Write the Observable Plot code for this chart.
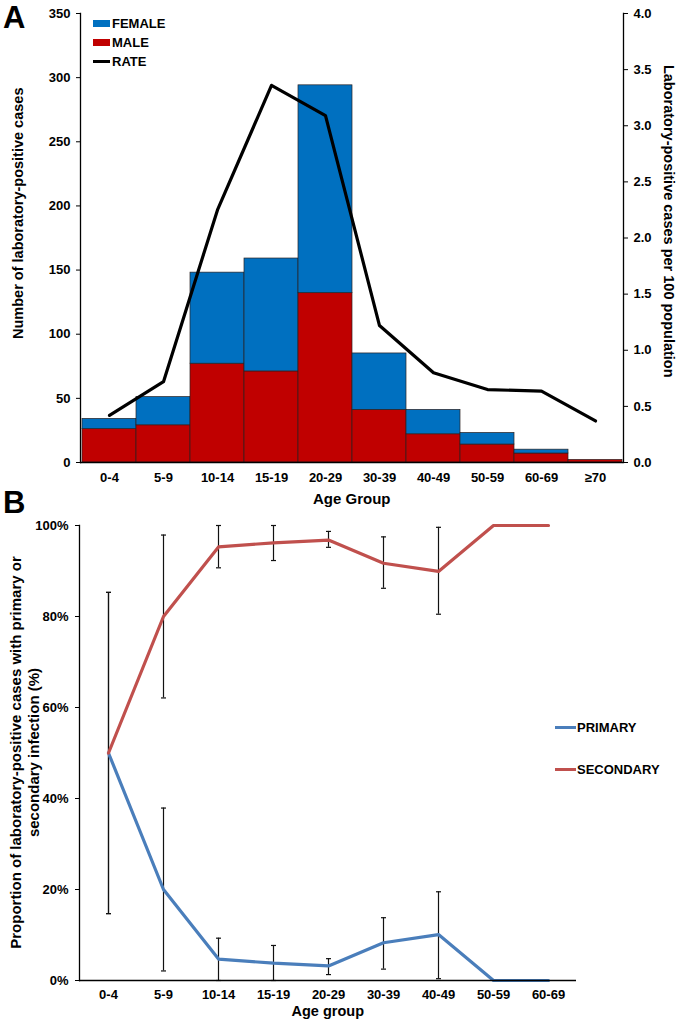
<!DOCTYPE html>
<html>
<head>
<meta charset="utf-8">
<script src="https://cdn.jsdelivr.net/npm/d3@7"></script>
<script src="https://cdn.jsdelivr.net/npm/@observablehq/plot@0.6"></script>
<style>
  html, body { margin: 0; padding: 0; background: #fff; }
  #wrap { position: relative; width: 678px; height: 1020px; font-family: "Liberation Sans", Arial, sans-serif; font-weight: bold; color: #000; overflow: hidden; }
  .abs { position: absolute; white-space: nowrap; }
  .panel { position: absolute; left: 0; }
  .lbl { font-size: 13px; line-height: 1; }
  .big { font-size: 31px; line-height: 1; }
  .sw { position: absolute; }
</style>
</head>
<body>
<div id="wrap"></div>
<script>
// ---------- Panel A data ----------
const ageGroups = ["0-4","5-9","10-14","15-19","20-29","30-39","40-49","50-59","60-69","≥70"];
const maleCases = [26, 29, 77, 71, 132, 41, 22, 14, 7, 2];
const femaleCases = [8, 22, 71, 88, 162, 44, 19, 9, 3, 0];
const ratePer100 = [0.42, 0.72, 2.25, 3.36, 3.09, 1.22, 0.80, 0.65, 0.635, 0.37];
const countTicks = [0, 50, 100, 150, 200, 250, 300, 350];
const rateTicks = [0, 0.5, 1, 1.5, 2, 2.5, 3, 3.5, 4];

// ---------- Panel B data ----------
const ageGroupsB = ["0-4","5-9","10-14","15-19","20-29","30-39","40-49","50-59","60-69"];
const primaryPct = [50, 20, 4.7, 3.8, 3.2, 8.3, 10.1, 0, 0];
const secondaryPct = [50, 80, 95.3, 96.2, 96.8, 91.7, 89.9, 100, 100];
const primaryLow = [14.7, 2.1, 0, 0, 1.3, 2.5, 0.4, null, null];
const primaryHigh = [85.3, 37.9, 9.3, 7.7, 4.8, 13.8, 19.5, null, null];
const secondaryLow = [14.7, 62.1, 90.7, 92.3, 95.2, 86.2, 80.5, null, null];
const secondaryHigh = [85.3, 97.9, 100, 100, 98.7, 97.5, 99.6, null, null];
const pctTicks = [0, 20, 40, 60, 80, 100];

const FEMALE = "#0070C0", MALE = "#C00000", RATE = "#000000";
const PRIMARY = "#4A7EBB", SECONDARY = "#C0504D";

const wrap = document.getElementById("wrap");
const fontFamily = '"Liberation Sans", Arial, sans-serif';

// ---------- Panel A ----------
const casesLong = [];
ageGroups.forEach((a, i) => {
  casesLong.push({age: a, sex: "MALE", n: maleCases[i]});
  casesLong.push({age: a, sex: "FEMALE", n: femaleCases[i]});
});
const rateData = ageGroups.map((a, i) => ({age: a, rate: ratePer100[i]}));
const k = 350 / 4; // right axis (0–4) shares the frame with left axis (0–350)

const plotA = Plot.plot({
  width: 678, height: 500,
  marginLeft: 80, marginRight: 55, marginTop: 13, marginBottom: 38,
  style: {fontFamily, fontSize: "13px", fontWeight: "bold", color: "#000", background: "transparent", overflow: "visible"},
  x: {domain: ageGroups, padding: 0, label: null},
  y: {domain: [0, 350], label: null},
  color: {domain: ["MALE", "FEMALE"], range: [MALE, FEMALE]},
  marks: [
    Plot.barY(casesLong, {x: "age", y: "n", fill: "sex", order: ["MALE", "FEMALE"], stroke: "#2a2020", strokeWidth: 0.7}),
    Plot.line(rateData, {x: "age", y: d => d.rate * k, stroke: RATE, strokeWidth: 3.2}),
    Plot.axisY({anchor: "left", ticks: countTicks, tickSize: 4, tickPadding: 6, label: null}),
    Plot.axisY({anchor: "right", ticks: rateTicks.map(r => r * k), tickFormat: v => (v / k).toFixed(1), tickSize: 4, tickPadding: 6, label: null}),
    Plot.axisX({tickSize: 0, tickPadding: 10, label: null}),
    Plot.frame({anchor: "left", stroke: "#000", strokeWidth: 1.3}),
    Plot.frame({anchor: "right", stroke: "#000", strokeWidth: 1.3}),
    Plot.ruleY([0], {stroke: "#000", strokeWidth: 1.3})
  ]
});
plotA.classList.add("panel");
plotA.style.top = "0px";
wrap.appendChild(plotA);

// ---------- Panel B ----------
const seriesB = [];
ageGroupsB.forEach((a, i) => {
  seriesB.push({age: a, s: "PRIMARY", v: primaryPct[i], lo: primaryLow[i], hi: primaryHigh[i]});
});
ageGroupsB.forEach((a, i) => {
  seriesB.push({age: a, s: "SECONDARY", v: secondaryPct[i], lo: secondaryLow[i], hi: secondaryHigh[i]});
});
const withCI = seriesB.filter(d => d.lo != null);
const capSymbol = { draw(ctx, size) { ctx.moveTo(-2.5, 0); ctx.lineTo(2.5, 0); } };

const plotB = Plot.plot({
  width: 678, height: 515,
  marginLeft: 79, marginRight: 102, marginTop: 20, marginBottom: 40,
  style: {fontFamily, fontSize: "13px", fontWeight: "bold", color: "#000", background: "transparent", overflow: "visible"},
  x: {type: "point", domain: ageGroupsB, padding: 0.5, label: null},
  y: {domain: [0, 100], label: null},
  color: {domain: ["PRIMARY", "SECONDARY"], range: [PRIMARY, SECONDARY]},
  marks: [
    Plot.ruleX(withCI, {x: "age", y1: "lo", y2: "hi", stroke: "#111", strokeWidth: 1.2}),
    Plot.dot(withCI, {x: "age", y: "lo", symbol: capSymbol, stroke: "#111", strokeWidth: 1.2, fill: "none"}),
    Plot.dot(withCI, {x: "age", y: "hi", symbol: capSymbol, stroke: "#111", strokeWidth: 1.2, fill: "none"}),
    Plot.line(seriesB, {x: "age", y: "v", z: "s", stroke: "s", strokeWidth: 3.2}),
    Plot.axisY({anchor: "left", ticks: pctTicks, tickFormat: d => d + "%", tickSize: 4, tickPadding: 7, label: null}),
    Plot.axisX({tickSize: 0, tickPadding: 9, label: null}),
    Plot.frame({anchor: "left", stroke: "#000", strokeWidth: 1.3}),
    Plot.ruleY([0], {stroke: "#000", strokeWidth: 1.3})
  ]
});
plotB.classList.add("panel");
plotB.style.top = "505px";
wrap.appendChild(plotB);

// ---------- Text & legends ----------
function addText(txt, x, y, cls, extra) {
  const d = document.createElement("div");
  d.className = "abs " + cls;
  d.textContent = txt;
  d.style.left = x + "px";
  d.style.top = y + "px";
  if (extra) Object.assign(d.style, extra);
  wrap.appendChild(d);
  return d;
}
function addCentered(txt, cx, cy, fontSize) {
  const d = document.createElement("div");
  d.className = "abs";
  d.textContent = txt;
  d.style.fontSize = fontSize + "px";
  d.style.lineHeight = "1";
  wrap.appendChild(d);
  d.style.left = (cx - d.offsetWidth / 2) + "px";
  d.style.top = (cy - d.offsetHeight / 2) + "px";
  return d;
}
function addRotated(txt, cx, cy, deg, fontSize) {
  const d = addCentered(txt, cx, cy, fontSize);
  d.style.transform = "rotate(" + deg + "deg)";
  return d;
}
function addSwatch(x, y, w, h, color) {
  const s = document.createElement("div");
  s.className = "sw";
  Object.assign(s.style, {left: x + "px", top: y + "px", width: w + "px", height: h + "px", background: color});
  wrap.appendChild(s);
}

addText("A", 3, 2, "big");
addText("B", 3, 487, "big");

// Panel A legend
const legA = [["FEMALE", FEMALE, "box"], ["MALE", MALE, "box"], ["RATE", RATE, "line"]];
legA.forEach(([name, col, kind], i) => {
  const cy = 23 + i * 19;
  if (kind === "box") addSwatch(93, cy - 3.5, 17, 7, col);
  else addSwatch(93, cy - 1.5, 17, 3, col);
  addText(name, 112, cy - 6.5, "lbl");
});

// Panel B legend
[["PRIMARY", PRIMARY], ["SECONDARY", SECONDARY]].forEach(([name, col], i) => {
  const cy = 727 + i * 42;
  addSwatch(555, cy - 1.5, 21, 3, col);
  addText(name, 577, cy - 6.5, "lbl");
});

// Axis titles
addRotated("Number of laboratory-positive cases", 18, 213, -90, 14.5);
addRotated("Laboratory-positive cases per 100 population", 668, 221, 90, 14.5);
addCentered("Age Group", 352, 498, 15);
addRotated("Proportion of laboratory-positive cases with primary or", 15, 752, -90, 15);
addRotated("secondary infection (%)", 33, 752, -90, 15);
addCentered("Age group", 328, 1011, 14.5);
</script>
</body>
</html>
